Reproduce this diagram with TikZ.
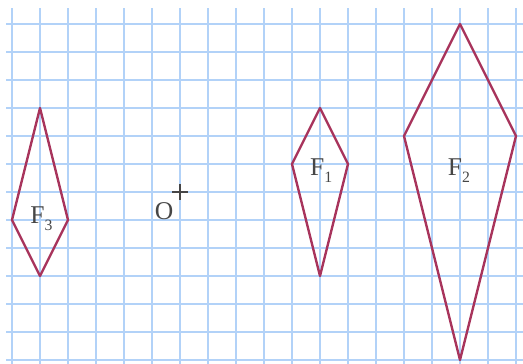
\documentclass[tikz,border=0pt]{standalone}
\usepackage{fontspec}
\setmainfont{Liberation Serif}
\definecolor{gridblue}{RGB}{178,210,248}
\definecolor{figred}{RGB}{168,52,92}
\definecolor{txtgray}{RGB}{70,70,70}
\newcommand{\figlbl}[2]{#1\raisebox{-7pt}{\fontsize{16}{16}\selectfont #2}}

\begin{document}
\begin{tikzpicture}[x=1cm, y=-1cm,
    gridline/.style={gridblue, line width=1.3pt},
    kite/.style={figred, line width=2.4pt, line join=round},
    lbl/.style={txtgray, inner sep=0pt, font=\fontsize{26}{26}\selectfont}]
    \useasboundingbox (-0.4286,-0.857) rectangle (18.25,12.143);

    % Grid
    \foreach \i in {0,...,18}
        \draw[gridline] (\i,-0.571) -- (\i,12.143);
    \foreach \j in {0,...,12}
        \draw[gridline] (-0.214,\j) -- (18.25,\j);

    % Centre O
    \draw[txtgray, line width=2.4pt] (5.73,6) -- (6.27,6);
    \draw[txtgray, line width=2.4pt] (6,5.73) -- (6,6.27);
    \node[lbl] (o) at (5.43,6.68) {O};

    % Figure F3
    \draw[kite] (1,3) -- (2,7) -- (1,9) -- (0,7) -- cycle;
    \node[lbl] (f3) at (1.05,6.96) {\figlbl{F}{3}};

    % Figure F1
    \draw[kite] (11,3) -- (12,5) -- (11,9) -- (10,5) -- cycle;
    \node[lbl] (f1) at (11.04,5.23) {\figlbl{F}{1}};

    % Figure F2
    \draw[kite] (16,0) -- (18,4) -- (16,12) -- (14,4) -- cycle;
    \node[lbl] (f2) at (15.96,5.25) {\figlbl{F}{2}};

\end{tikzpicture}
\end{document}
